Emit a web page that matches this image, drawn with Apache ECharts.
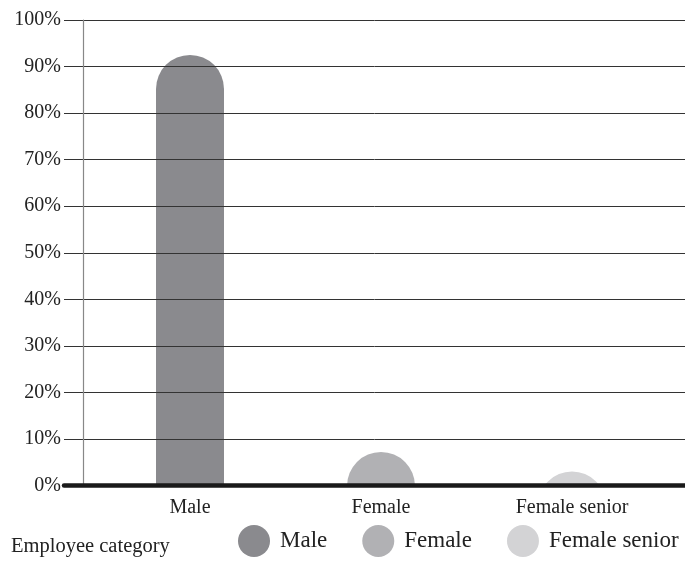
<!DOCTYPE html>
<html>
<head>
<meta charset="utf-8">
<script src="https://cdn.jsdelivr.net/npm/echarts@6/dist/echarts.min.js"></script>
<style>html,body{margin:0;padding:0;background:#fff;}#c{width:685px;height:565px;}</style>
</head>
<body>
<div id="c"></div>
<script>
const categories = ['Male', 'Female', 'Female senior'];
const seriesNames = ['Male', 'Female', 'Female senior'];
const values = [92.5, 7.2, 3];
const colors = ['#8a8a8e', '#b1b1b4', '#d3d3d5'];
const yTicks = [0, 10, 20, 30, 40, 50, 60, 70, 80, 90, 100];

const FONT = '"Liberation Serif", "Times New Roman", serif';
const chart = echarts.init(document.getElementById('c'), null, {renderer: 'canvas'});

function renderDome(params, api) {
  const cx = api.value(0), v = api.value(1);
  const top = api.coord([cx, v]);
  const base = api.coord([cx, 0]);
  const w = api.size([1, 0])[0] * 0.356;
  const r = w / 2;
  return {
    type: 'rect',
    shape: {x: top[0] - w / 2, y: top[1], width: w, height: Math.max(base[1] - top[1], 0) + r, r: [r, r, 0, 0]},
    style: api.style()
  };
}

const series = seriesNames.map((n, i) => ({
  name: n,
  type: 'custom',
  xAxisIndex: 2,
  yAxisIndex: 2,
  clip: true,
  itemStyle: {color: colors[i]},
  renderItem: renderDome,
  encode: {x: 0, y: 1},
  data: [[categories[i], values[i]]]
}));

chart.setOption({
  animation: false,
  color: colors,
  textStyle: {fontFamily: FONT},
  title: {
    text: 'Employee category', left: 11, top: 536, padding: 0,
    textStyle: {fontFamily: FONT, fontSize: 20.5, fontWeight: 'normal', color: '#222'}
  },
  legend: {
    data: seriesNames, left: 238, top: 525, padding: 0, icon: 'circle',
    itemWidth: 32, itemHeight: 32, itemGap: 35,
    textStyle: {fontFamily: FONT, fontSize: 23, color: '#222', padding: [3, 0, 0, 5]}
  },
  grid: [
    {left: 64, right: 0, top: 20, bottom: 79.5},
    {left: 83, right: 0, top: 20, bottom: 79.5},
    {left: 94.5, right: 17.5, top: 20, bottom: 79.5}
  ],
  xAxis: [
    {gridIndex: 0, type: 'category', data: categories, z: 6,
     axisLine: {show: true, lineStyle: {color: '#1a1a1a', width: 4.5}},
     axisTick: {show: false}, axisLabel: {show: false}, splitLine: {show: false}},
    {gridIndex: 1, type: 'category', data: categories, show: false},
    {gridIndex: 2, type: 'category', data: categories,
     axisLine: {show: false}, axisTick: {show: false},
     axisLabel: {fontFamily: FONT, fontSize: 20, color: '#222', margin: 12}}
  ],
  yAxis: [
    {gridIndex: 0, type: 'value', min: 0, max: 100, interval: 10, z: 5,
     axisLine: {show: false}, axisTick: {show: false},
     axisLabel: {fontFamily: FONT, fontSize: 20, color: '#222', margin: 3,
       formatter: v => yTicks.includes(v) ? v + '%' : ''},
     splitLine: {show: true, lineStyle: {color: '#333', width: 1}}},
    {gridIndex: 1, type: 'value', min: 0, max: 100, interval: 10, z: 5.5,
     axisLine: {show: true, lineStyle: {color: '#888', width: 1.2}},
     axisTick: {show: false}, axisLabel: {show: false}, splitLine: {show: false}},
    {gridIndex: 2, type: 'value', min: 0, max: 100, interval: 10, show: false, splitLine: {show: false}}
  ],
  series: series
});
</script>
</body>
</html>
